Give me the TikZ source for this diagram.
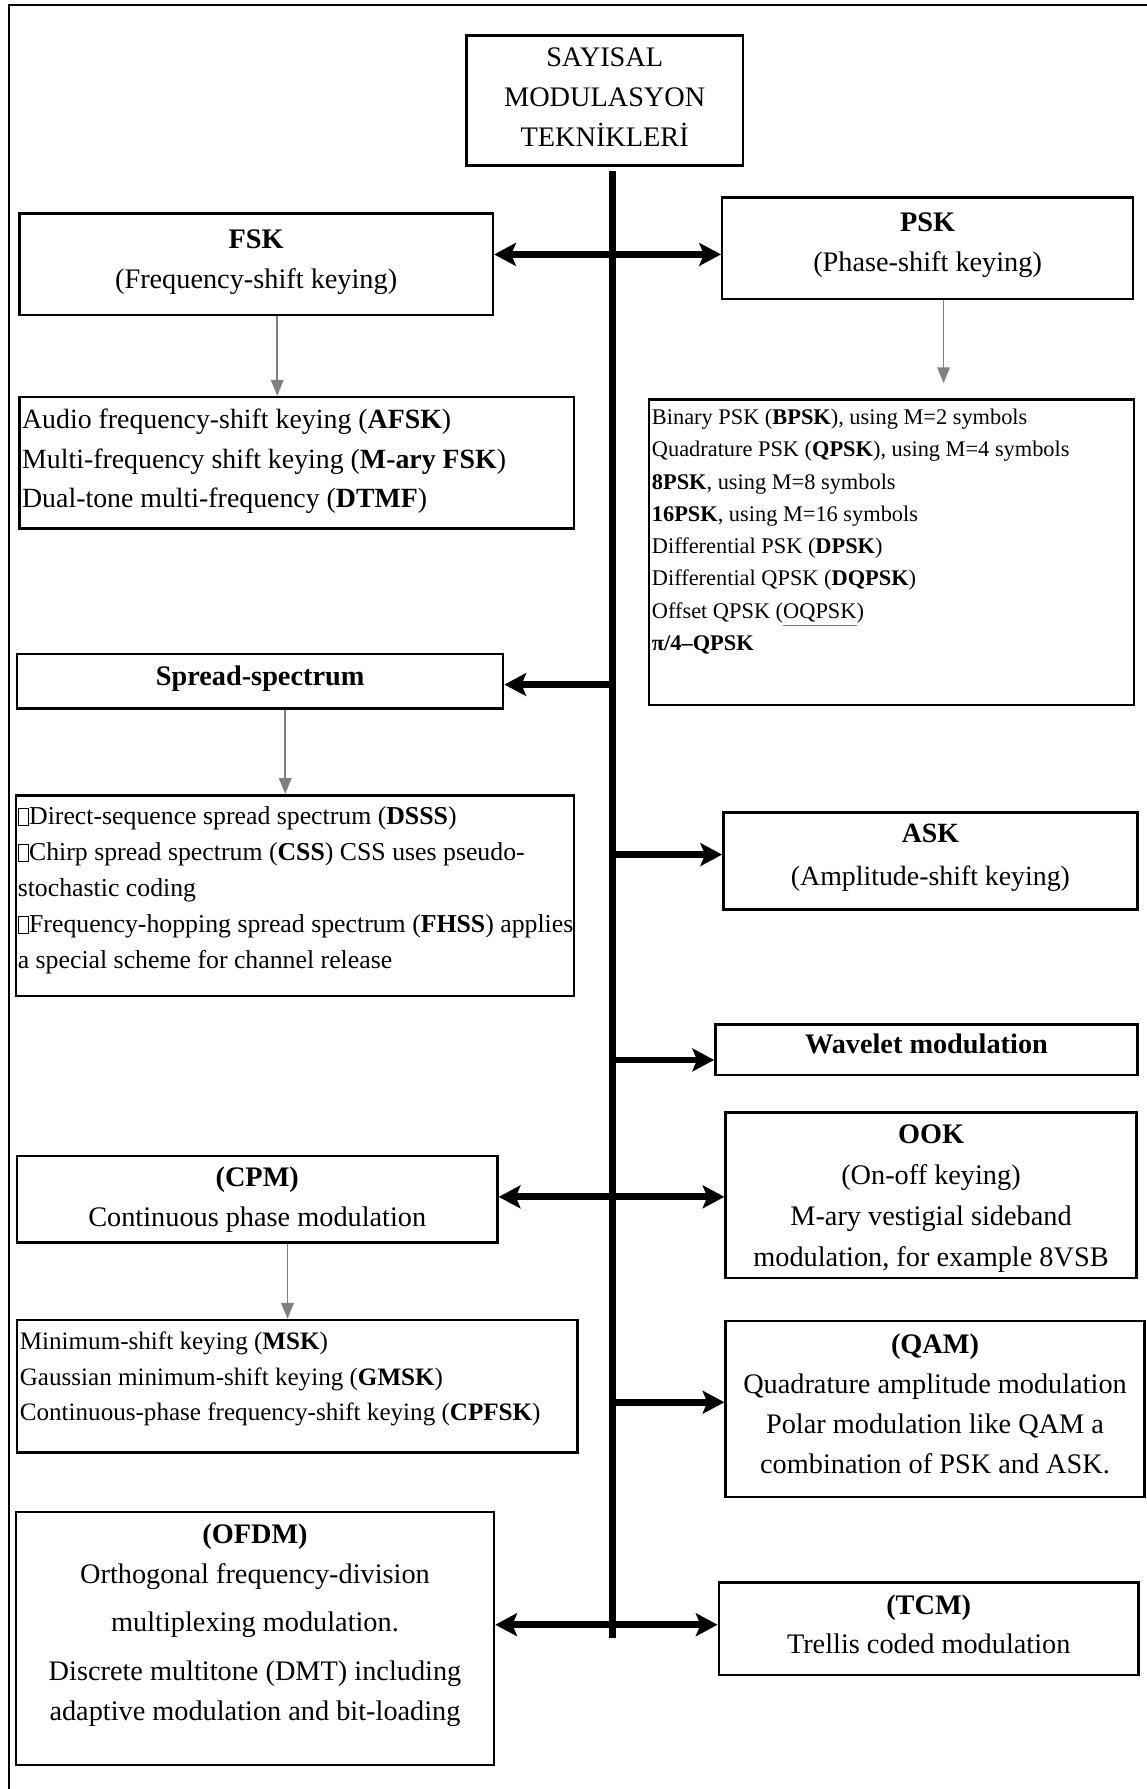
\documentclass[tikz,border=0pt]{standalone}
\usepackage{fontspec}
\setmainfont{Liberation Serif}
\usetikzlibrary{arrows.meta}

\definecolor{linkgray}{gray}{0.5}

% empty glyph box used as a bullet
\newcommand\nobullet{{\setlength\fboxsep{0pt}\setlength\fboxrule{0.45pt}\fbox{\rule{0pt}{0.62em}\hspace{0.36em}}}}
% box body: width, height, height of the first line, alignment, lines
\newcommand\boxbody[5]{\parbox[c][#2][t]{#1}{#4\rule{0pt}{#3}#5}}
\newcommand\lefttext{\raggedright\leftskip=1.2pt\relax}

\tikzset{
  box/.style={draw=black, line width=1.1pt, inner sep=0pt, fill=white},
  mainfont/.style={font=\fontsize{12.4}{17.5}\selectfont},
  bigarrow/.style={line width=3pt, -{Stealth[length=9.5pt,width=10pt,inset=2pt]}},
  thinarrow/.style={draw=linkgray, line width=0.8pt, -{Triangle[length=7pt,width=5.5pt]}, fill=linkgray},
  trunk/.style={line width=3pt},
}

\begin{document}
\begin{tikzpicture}[x=0.5pt, y=-0.5pt]
\useasboundingbox (0,0) rectangle (1005,1568);

% frame
\draw[line width=1pt] (8,1568) -- (8,4.5) -- (1005,4.5);

% root
\node[box, mainfont] (title) at (530,88)
  {\boxbody{121pt}{57pt}{13.5pt}{\centering}{SAYISAL\\MODULASYON\\TEKNİKLERİ}};

% left column
\node[box, mainfont] (fsk) at (224.5,231.5)
  {\boxbody{207.5pt}{44.5pt}{15.5pt}{\centering}{\textbf{FSK}\\(Frequency-shift keying)}};
\node[box, font=\fontsize{12.2}{17.25}\selectfont] (afsk) at (260,405.5)
  {\boxbody{243pt}{57.5pt}{14pt}{\lefttext}{%
   \mbox{Audio frequency-shift keying (\textbf{AFSK})}\\
   \mbox{Multi-frequency shift keying (\textbf{M-ary FSK})}\\
   \mbox{Dual-tone multi-frequency (\textbf{DTMF})}}};
\node[box, mainfont] (spread) at (228,597)
  {\boxbody{213pt}{24pt}{14pt}{\centering}{\textbf{Spread-spectrum}}};
\node[box, font=\fontsize{11.3}{15.75}\selectfont] (spreadl) at (258.5,785)
  {\boxbody{244.5pt}{88pt}{13pt}{\raggedright\leftskip=0.8pt\relax}{%
   \mbox{\nobullet Direct-sequence spread spectrum (\textbf{DSSS})}\\
   \mbox{\nobullet Chirp spread spectrum (\textbf{CSS}) CSS uses pseudo-}\\
   \mbox{stochastic coding}\\
   \mbox{\nobullet Frequency-hopping spread spectrum (\textbf{FHSS}) applies}\\
   \mbox{a special scheme for channel release}}};
\node[box, mainfont] (cpm) at (225.5,1051)
  {\boxbody{210.5pt}{38pt}{13.5pt}{\centering}{\textbf{(CPM)}\\Continuous phase modulation}};
\node[box, font=\fontsize{11}{15.5}\selectfont] (cpml) at (260.5,1215)
  {\boxbody{245.5pt}{58pt}{13pt}{\lefttext}{%
   \mbox{Minimum-shift keying (\textbf{MSK})}\\
   \mbox{Gaussian minimum-shift keying (\textbf{GMSK})}\\
   \mbox{Continuous-phase frequency-shift keying (\textbf{CPFSK})}}};
\node[box, mainfont] (ofdm) at (223.5,1436)
  {\boxbody{209.5pt}{111pt}{14pt}{\centering}{\textbf{(OFDM)}\\Orthogonal frequency-division\\[3.5pt]
   multiplexing modulation.\\[4pt]Discrete multitone (DMT) including\\adaptive modulation and bit-loading}};

% right column
\node[box, mainfont] (psk) at (813,217.5)
  {\boxbody{180pt}{44.5pt}{15pt}{\centering}{\textbf{PSK}\\(Phase-shift keying)}};
\node[box, font=\fontsize{9.8}{14.15}\selectfont] (pskl) at (781.5,484)
  {\boxbody{212.5pt}{134pt}{11pt}{\lefttext}{%
   \mbox{Binary PSK (\textbf{BPSK}), using M=2 symbols}\\
   \mbox{Quadrature PSK (\textbf{QPSK}), using M=4 symbols}\\
   \mbox{\textbf{8PSK}, using M=8 symbols}\\
   \mbox{\textbf{16PSK}, using M=16 symbols}\\
   \mbox{Differential PSK (\textbf{DPSK})}\\
   \mbox{Differential QPSK (\textbf{DQPSK})}\\
   \mbox{Offset QPSK ({\color{linkgray}\underline{\color{black}OQPSK}})}\\
   \mbox{\textbf{π/4–QPSK}}}};
\node[box, font=\fontsize{12.2}{19}\selectfont] (ask) at (815.5,754.5)
  {\boxbody{181.5pt}{42.5pt}{13pt}{\centering}{\textbf{ASK}\\(Amplitude-shift keying)}};
\node[box, mainfont] (wavelet) at (812,920)
  {\boxbody{185pt}{22pt}{12.5pt}{\centering}{\textbf{Wavelet modulation}}};
\node[box, font=\fontsize{12.4}{18}\selectfont] (ook) at (816,1047.5)
  {\boxbody{180pt}{72.5pt}{13.5pt}{\centering}{\textbf{OOK}\\(On-off keying)\\M-ary vestigial sideband\\modulation, for example 8VSB}};
\node[box, font=\fontsize{12.4}{17.6}\selectfont] (qam) at (819.5,1235)
  {\boxbody{183.5pt}{77pt}{14pt}{\centering}{\textbf{(QAM)}\\Quadrature amplitude modulation\\Polar modulation like QAM a\\combination of PSK and ASK.}};
\node[box, font=\fontsize{12.4}{17}\selectfont] (tcm) at (814,1427.5)
  {\boxbody{184pt}{40.5pt}{14pt}{\centering}{\textbf{(TCM)}\\Trellis coded modulation}};

% trunk and its branch points
\coordinate (ttop) at (537,150);
\coordinate (tbot) at (537,1436);
\draw[trunk] (ttop) -- (tbot);
\coordinate (jA) at (537,223);
\coordinate (jB) at (537,600);
\coordinate (jC) at (537,749);
\coordinate (jD) at (537,929);
\coordinate (jE) at (537,1049);
\coordinate (jF) at (537,1229);
\coordinate (jG) at (537,1424);

\draw[bigarrow] (jA) -- (jA -| fsk.east);
\draw[bigarrow] (jA) -- (jA -| psk.west);
\draw[bigarrow] (jB) -- (jB -| spread.east);
\draw[bigarrow] (jC) -- (jC -| ask.west);
\draw[bigarrow] (jD) -- (jD -| wavelet.west);
\draw[bigarrow] (jE) -- (jE -| cpm.east);
\draw[bigarrow] (jE) -- (jE -| ook.west);
\draw[bigarrow] (jF) -- (jF -| qam.west);
\draw[bigarrow] (jG) -- (jG -| ofdm.east);
\draw[bigarrow] (jG) -- (jG -| tcm.west);

% sub-type arrows
\coordinate (gA) at (243,0);
\coordinate (gB) at (827,0);
\coordinate (gC) at (250,0);
\coordinate (gD) at (252,0);
\draw[thinarrow] (gA |- fsk.south) -- (gA |- afsk.north);
\draw[thinarrow, shorten >=6.5pt] (gB |- psk.south) -- (gB |- pskl.north);
\draw[thinarrow] (gC |- spread.south) -- (gC |- spreadl.north);
\draw[thinarrow] (gD |- cpm.south) -- (gD |- cpml.north);
\end{tikzpicture}
\end{document}
